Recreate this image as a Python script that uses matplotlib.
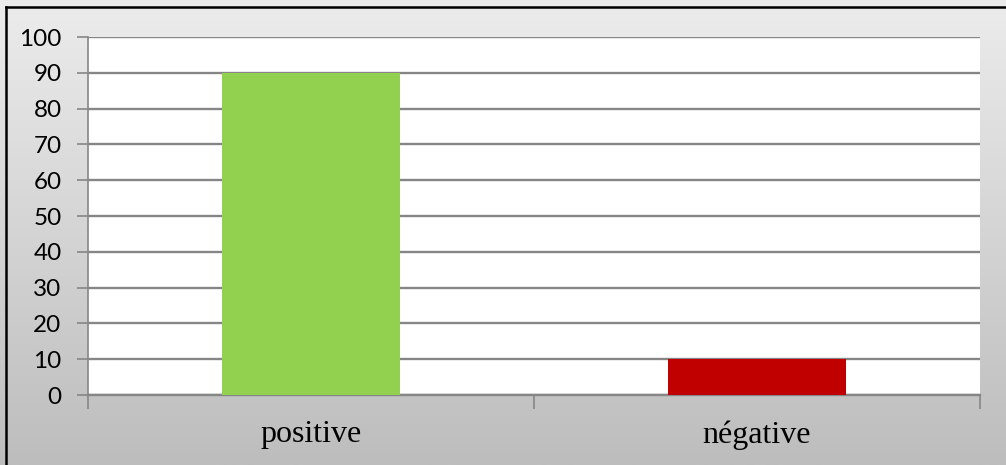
import matplotlib
matplotlib.use("Agg")
import matplotlib.pyplot as plt
from matplotlib.lines import Line2D
import numpy as np

# data
categories = ["positive", "négative"]
values = [90, 10]
bar_colors = ["#92D050", "#C00000"]
y_ticks = list(range(0, 101, 10))

GRID_COLOR = "#868686"

fig = plt.figure(figsize=(10.06, 4.65), dpi=100)

# gradient background of the chart area
bg = fig.add_axes([0, 0, 1, 1], zorder=0)
grad = np.linspace(0, 1, 256).reshape(-1, 1)
bg.imshow(grad, aspect="auto", cmap=matplotlib.colors.LinearSegmentedColormap.from_list(
    "bg", ["#ECECEC", "#BDBDBD"]), extent=[0, 1, 0, 1], origin="upper")
bg.set_xlim(0, 1)
bg.set_ylim(0, 1)
bg.axis("off")

# black frame (top and left visible)
fig.add_artist(Line2D([0.006, 1.0], [1 - 7 / 465, 1 - 7 / 465], color="black", lw=1.8,
                      transform=fig.transFigure))
fig.add_artist(Line2D([6 / 1006, 6 / 1006], [0, 1 - 7 / 465], color="black", lw=1.8,
                      transform=fig.transFigure))

ax = fig.add_axes([88 / 1006, 1 - 395 / 465, (980 - 88) / 1006, (395 - 37) / 465], zorder=1)
ax.set_facecolor("white")

x = np.arange(len(categories))
ax.bar(x, values, width=0.4, color=bar_colors, zorder=3)

ax.set_xlim(-0.5, len(categories) - 0.5)
ax.set_ylim(0, 100)
ax.set_yticks(y_ticks)
ax.set_yticklabels([str(v) for v in y_ticks], fontsize=17.5, family=["Lato", "DejaVu Sans"])
ax.yaxis.grid(True, color=GRID_COLOR, lw=1.7, zorder=1)
ax.set_axisbelow(True)

# category separators as major ticks, labels on minor ticks
ax.set_xticks(np.arange(-0.5, len(categories), 1.0))
ax.set_xticklabels([])
ax.set_xticks(x, minor=True)
ax.set_xticklabels(categories, minor=True, fontsize=23, family="Liberation Serif")
ax.tick_params(axis="x", which="major", length=10, width=1.2, color=GRID_COLOR, direction="out")
ax.tick_params(axis="x", which="minor", length=0, pad=18)
ax.tick_params(axis="y", length=8, width=1.2, color=GRID_COLOR, direction="out", pad=11)

for side in ["top", "right"]:
    ax.spines[side].set_visible(False)
ax.spines["left"].set_color(GRID_COLOR)
ax.spines["left"].set_linewidth(1.2)
ax.spines["bottom"].set_color(GRID_COLOR)
ax.spines["bottom"].set_linewidth(1.7)

fig.savefig("out.png", dpi=100)
